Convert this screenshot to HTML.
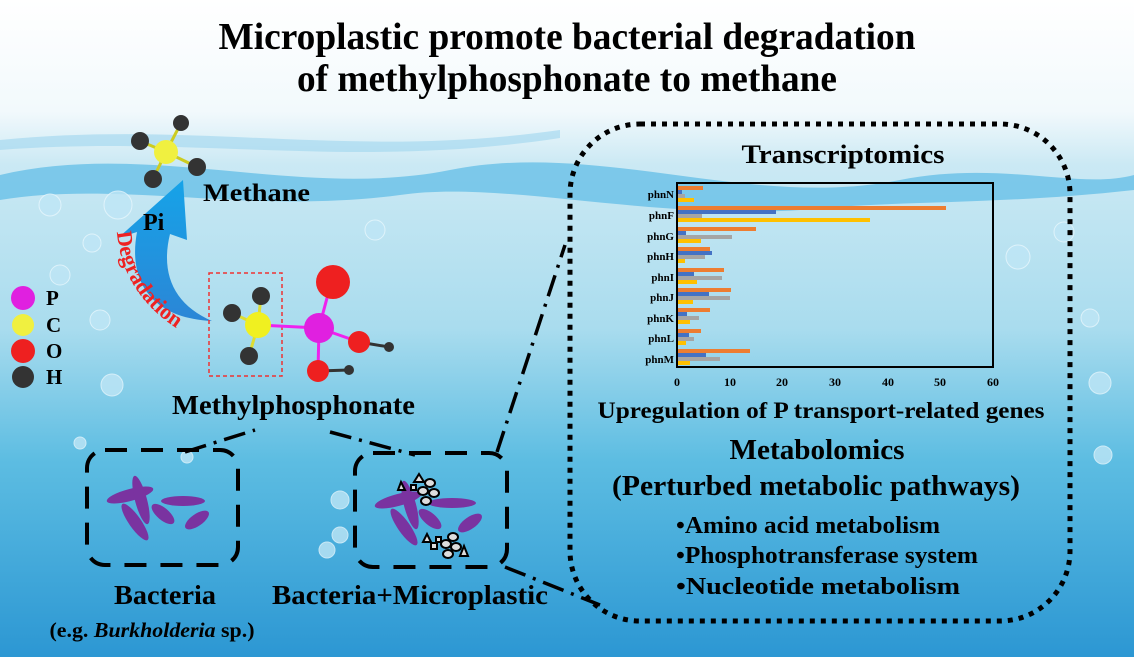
<!DOCTYPE html>
<html><head><meta charset="utf-8"><style>
html,body{margin:0;padding:0;}
body{width:1134px;height:657px;overflow:hidden;}
svg text{font-family:"Liberation Serif",serif;font-weight:bold;}
</style></head><body>
<svg width="1134" height="657" viewBox="0 0 1134 657" xmlns="http://www.w3.org/2000/svg">
<defs>
<linearGradient id="bg" x1="0" y1="0" x2="0" y2="1">
<stop offset="0" stop-color="#ffffff"/>
<stop offset="0.17" stop-color="#f2f9fc"/>
<stop offset="0.25" stop-color="#cbe9f4"/>
<stop offset="0.5" stop-color="#a9dcee"/>
<stop offset="0.7" stop-color="#5dbde2"/>
<stop offset="1" stop-color="#2c97d3"/>
</linearGradient>
<linearGradient id="arr" x1="0" y1="1" x2="0" y2="0">
<stop offset="0" stop-color="#2b86d6"/><stop offset="1" stop-color="#16a3e8"/>
</linearGradient>
</defs>
<rect width="1134" height="657" fill="url(#bg)"/>
<path d="M0 175 C150 140 300 200 450 170 C600 140 750 210 900 180 C1000 160 1080 190 1134 175 L1134 190 C1000 205 900 200 800 210 C650 220 500 180 400 195 C250 215 120 180 0 200Z" fill="#5bbbe6" opacity="0.7"/>
<path d="M0 140 C200 120 350 160 560 130 L560 138 C350 170 200 135 0 150Z" fill="#9fd6ef" opacity="0.6"/>
<g fill="#bfe6f6" stroke="#e8f7fd" stroke-width="1" opacity="0.8">
<circle cx="50" cy="205" r="11"/><circle cx="118" cy="205" r="14"/><circle cx="92" cy="243" r="9"/>
<circle cx="60" cy="275" r="10"/><circle cx="100" cy="320" r="10"/><circle cx="112" cy="385" r="11"/>
<circle cx="375" cy="230" r="10"/><circle cx="1018" cy="257" r="12"/><circle cx="1064" cy="232" r="10"/>
<circle cx="1090" cy="318" r="9"/><circle cx="1100" cy="383" r="11"/><circle cx="1103" cy="455" r="9"/>
<circle cx="340" cy="500" r="9"/><circle cx="340" cy="535" r="8"/><circle cx="327" cy="550" r="8"/>
<circle cx="80" cy="443" r="6"/><circle cx="187" cy="457" r="6"/>
</g>
<text x="567" y="49" font-size="38" text-anchor="middle" textLength="697" lengthAdjust="spacingAndGlyphs">Microplastic promote bacterial degradation</text>
<text x="567" y="91" font-size="38" text-anchor="middle" textLength="540" lengthAdjust="spacingAndGlyphs">of methylphosphonate to methane</text>

<g stroke="#cccc22" stroke-width="3">
<line x1="166" y1="152" x2="181" y2="123"/><line x1="166" y1="152" x2="140" y2="141"/><line x1="166" y1="152" x2="197" y2="167"/><line x1="166" y1="152" x2="153" y2="179"/>
</g>
<circle cx="181" cy="123" r="8" fill="#333"/><circle cx="140" cy="141" r="9" fill="#333"/>
<circle cx="166" cy="152" r="12" fill="#f0f040"/><circle cx="197" cy="167" r="9" fill="#333"/><circle cx="153" cy="179" r="9" fill="#333"/>
<text x="203" y="201" font-size="25" textLength="107" lengthAdjust="spacingAndGlyphs">Methane</text>

<path d="M212 321 C150 318 128 280 137 232 L118 238 L183 180 L187 240 L170 234 C160 275 175 305 212 321Z" fill="url(#arr)"/>
<text x="143" y="230" font-size="24">Pi</text>
<path id="dp" d="M117 232 C120 275 145 315 198 340" fill="none"/>
<text font-size="22" fill="#ee2222"><textPath href="#dp">Degradation</textPath></text>

<rect x="209" y="273" width="73" height="103" fill="none" stroke="#e33" stroke-width="1.5" stroke-dasharray="4,3"/>
<g stroke-width="3">
<line x1="258" y1="325" x2="261" y2="296" stroke="#dd3"/>
<line x1="258" y1="325" x2="232" y2="313" stroke="#dd3"/>
<line x1="258" y1="325" x2="249" y2="356" stroke="#dd3"/>
<line x1="258" y1="325" x2="319" y2="328" stroke="#e2e"/>
<line x1="319" y1="328" x2="331" y2="283" stroke="#e2e"/>
<line x1="319" y1="328" x2="359" y2="342" stroke="#e2e"/>
<line x1="319" y1="328" x2="318" y2="371" stroke="#e2e"/>
<line x1="359" y1="342" x2="389" y2="347" stroke="#333"/>
<line x1="318" y1="371" x2="349" y2="370" stroke="#333"/>
</g>
<circle cx="261" cy="296" r="9" fill="#333"/><circle cx="232" cy="313" r="9" fill="#333"/>
<circle cx="258" cy="325" r="13" fill="#f0f020"/><circle cx="249" cy="356" r="9" fill="#333"/>
<circle cx="333" cy="282" r="17" fill="#ee2020"/>
<circle cx="319" cy="328" r="15" fill="#e020e0"/>
<circle cx="359" cy="342" r="11" fill="#ee2020"/><circle cx="389" cy="347" r="5" fill="#333"/>
<circle cx="318" cy="371" r="11" fill="#ee2020"/><circle cx="349" cy="370" r="5" fill="#333"/>
<text x="172" y="414" font-size="27" textLength="243" lengthAdjust="spacingAndGlyphs">Methylphosphonate</text>

<circle cx="23" cy="298" r="12" fill="#e020e0"/><text x="46" y="305" font-size="21">P</text>
<circle cx="23" cy="325" r="11" fill="#f0f040"/><text x="46" y="332" font-size="21">C</text>
<circle cx="23" cy="351" r="12" fill="#ee2020"/><text x="46" y="358" font-size="21">O</text>
<circle cx="23" cy="377" r="11" fill="#333"/><text x="46" y="384" font-size="21">H</text>

<g stroke="#000" stroke-width="3.5" fill="none" stroke-dasharray="22,8,3,8">
<path d="M185 452 L255 430"/>
<path d="M330 432 L415 455"/>
<path d="M497 452 L565 245"/>
<path d="M505 567 L600 605"/>
</g>
<rect x="87" y="450" width="151" height="115" rx="18" fill="none" stroke="#000" stroke-width="4" stroke-dasharray="22,14"/>
<rect x="355" y="453" width="152" height="114" rx="18" fill="none" stroke="#000" stroke-width="4" stroke-dasharray="22,14"/>
<g fill="#7a33a0">
<ellipse cx="130" cy="495" rx="24" ry="6" transform="rotate(-15 130 495)"/>
<ellipse cx="141" cy="500" rx="25" ry="6" transform="rotate(75 141 500)"/>
<ellipse cx="135" cy="522" rx="22" ry="6" transform="rotate(55 135 522)"/>
<ellipse cx="163" cy="514" rx="14" ry="6" transform="rotate(40 163 514)"/>
<ellipse cx="183" cy="501" rx="22" ry="5"/>
<ellipse cx="197" cy="520" rx="14" ry="6" transform="rotate(-35 197 520)"/>
<ellipse cx="398" cy="500" rx="24" ry="6" transform="rotate(-15 398 500)"/>
<ellipse cx="410" cy="505" rx="25" ry="6" transform="rotate(75 410 505)"/>
<ellipse cx="404" cy="527" rx="22" ry="6" transform="rotate(55 404 527)"/>
<ellipse cx="430" cy="519" rx="14" ry="6" transform="rotate(40 430 519)"/>
<ellipse cx="452" cy="503" rx="24" ry="5"/>
<ellipse cx="470" cy="523" rx="14" ry="6" transform="rotate(-35 470 523)"/>
</g>
<g fill="#ddd" stroke="#000" stroke-width="2">
<path d="M398 490 L405 490 L401 482Z"/><path d="M414 482 L424 482 L419 474Z"/>
<rect x="411" y="485" width="5" height="5"/>
<ellipse cx="430" cy="483" rx="5" ry="4"/><ellipse cx="423" cy="491" rx="5" ry="4"/><ellipse cx="434" cy="493" rx="5" ry="4"/><ellipse cx="426" cy="501" rx="5" ry="4"/>
<path d="M423 542 L431 542 L427 534Z"/><rect x="431" y="543" width="6" height="6"/><rect x="436" y="537" width="5" height="5"/>
<ellipse cx="453" cy="537" rx="5" ry="4"/><ellipse cx="446" cy="544" rx="5" ry="4"/><ellipse cx="456" cy="547" rx="5" ry="4"/><ellipse cx="448" cy="554" rx="5" ry="4"/>
<path d="M460 556 L468 556 L464 546Z"/>
</g>
<text x="165" y="604" font-size="27" text-anchor="middle" textLength="102" lengthAdjust="spacingAndGlyphs">Bacteria</text>
<text x="410" y="604" font-size="27" text-anchor="middle" textLength="276" lengthAdjust="spacingAndGlyphs">Bacteria+Microplastic</text>
<text x="152" y="637" font-size="21" text-anchor="middle" textLength="205" lengthAdjust="spacingAndGlyphs">(e.g. <tspan font-style="italic">Burkholderia</tspan> sp.)</text>

<rect x="570" y="124" width="500" height="497" rx="70" fill="none" stroke="#000" stroke-width="5" stroke-dasharray="5,6"/>
<text x="843" y="163" font-size="26" text-anchor="middle" textLength="203" lengthAdjust="spacingAndGlyphs">Transcriptomics</text>

<g font-size="11" text-anchor="end">
<text x="674" y="198">phnN</text><text x="674" y="219">phnF</text><text x="674" y="240">phnG</text>
<text x="674" y="260">phnH</text><text x="674" y="281">phnI</text><text x="674" y="301">phnJ</text>
<text x="674" y="322">phnK</text><text x="674" y="342">phnL</text><text x="674" y="363">phnM</text>
</g>
<g>
<rect x="677" y="186" width="26" height="4" fill="#ed7d31"/><rect x="677" y="190" width="5" height="4" fill="#4472c4"/><rect x="677" y="194" width="8" height="4" fill="#a5a5a5"/><rect x="677" y="198" width="17" height="4" fill="#ffc000"/>
<rect x="677" y="206" width="269" height="4" fill="#ed7d31"/><rect x="677" y="210" width="99" height="4" fill="#4472c4"/><rect x="677" y="214" width="25" height="4" fill="#a5a5a5"/><rect x="677" y="218" width="193" height="4" fill="#ffc000"/>
<rect x="677" y="227" width="79" height="4" fill="#ed7d31"/><rect x="677" y="231" width="9" height="4" fill="#4472c4"/><rect x="677" y="235" width="55" height="4" fill="#a5a5a5"/><rect x="677" y="239" width="24" height="4" fill="#ffc000"/>
<rect x="677" y="247" width="33" height="4" fill="#ed7d31"/><rect x="677" y="251" width="35" height="4" fill="#4472c4"/><rect x="677" y="255" width="28" height="4" fill="#a5a5a5"/><rect x="677" y="259" width="8" height="4" fill="#ffc000"/>
<rect x="677" y="268" width="47" height="4" fill="#ed7d31"/><rect x="677" y="272" width="17" height="4" fill="#4472c4"/><rect x="677" y="276" width="45" height="4" fill="#a5a5a5"/><rect x="677" y="280" width="20" height="4" fill="#ffc000"/>
<rect x="677" y="288" width="54" height="4" fill="#ed7d31"/><rect x="677" y="292" width="32" height="4" fill="#4472c4"/><rect x="677" y="296" width="53" height="4" fill="#a5a5a5"/><rect x="677" y="300" width="16" height="4" fill="#ffc000"/>
<rect x="677" y="308" width="33" height="4" fill="#ed7d31"/><rect x="677" y="312" width="10" height="4" fill="#4472c4"/><rect x="677" y="316" width="22" height="4" fill="#a5a5a5"/><rect x="677" y="320" width="13" height="4" fill="#ffc000"/>
<rect x="677" y="329" width="24" height="4" fill="#ed7d31"/><rect x="677" y="333" width="12" height="4" fill="#4472c4"/><rect x="677" y="337" width="17" height="4" fill="#a5a5a5"/><rect x="677" y="341" width="9" height="4" fill="#ffc000"/>
<rect x="677" y="349" width="73" height="4" fill="#ed7d31"/><rect x="677" y="353" width="29" height="4" fill="#4472c4"/><rect x="677" y="357" width="43" height="4" fill="#a5a5a5"/><rect x="677" y="361" width="13" height="4" fill="#ffc000"/>
</g>
<rect x="677" y="183" width="316" height="184" fill="none" stroke="#000" stroke-width="2"/>
<g font-size="12" text-anchor="middle">
<text x="677" y="386">0</text><text x="730" y="386">10</text><text x="782" y="386">20</text><text x="835" y="386">30</text>
<text x="888" y="386">40</text><text x="940" y="386">50</text><text x="993" y="386">60</text>
</g>
<text x="821" y="418" font-size="23" text-anchor="middle" textLength="447" lengthAdjust="spacingAndGlyphs">Upregulation of P transport-related genes</text>
<text x="817" y="459" font-size="28" text-anchor="middle" textLength="175" lengthAdjust="spacingAndGlyphs">Metabolomics</text>
<text x="816" y="495" font-size="28" text-anchor="middle" textLength="408" lengthAdjust="spacingAndGlyphs">(Perturbed metabolic pathways)</text>
<g font-size="24">
<text x="676" y="533" textLength="264" lengthAdjust="spacingAndGlyphs">•Amino acid metabolism</text>
<text x="676" y="563" textLength="302" lengthAdjust="spacingAndGlyphs">•Phosphotransferase system</text>
<text x="676" y="594" textLength="284" lengthAdjust="spacingAndGlyphs">•Nucleotide metabolism</text>
</g>
</svg>
</body></html>
